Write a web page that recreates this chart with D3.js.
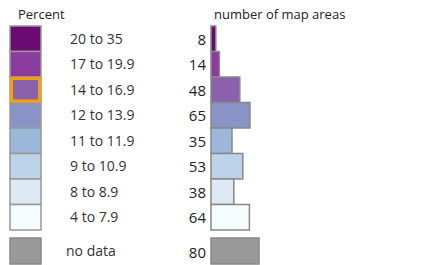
<!DOCTYPE html>
<head>
    <meta charset="utf-8">
    <title>Percent legend with map area counts</title>
    <script src="https://cdn.jsdelivr.net/npm/d3@7/dist/d3.min.js"></script>
</head>

<body style="margin:0;background:#fff">

<div id="container"></div>

<script type="text/javascript">
    // legend classes, top to bottom
    const classLabels = ["20 to 35", "17 to 19.9", "14 to 16.9", "12 to 13.9", "11 to 11.9", "9 to 10.9", "8 to 8.9", "4 to 7.9"];
    const areaCounts = [8, 14, 48, 65, 35, 53, 38, 64];
    const classColors = ["#6b0a70", "#8a3b9c", "#8b60ad", "#8a93c8", "#9bb8da", "#bcd3ea", "#dde9f4", "#f4fcfd"];
    const noDataLabel = "no data";
    const noDataCount = 80;
    const highlighted = "14 to 16.9";

    const width = 433, height = 265;

    const svg = d3.select("#container")
        .append("svg")
        .attr("width", width)
        .attr("height", height)
        .style("font-family", "'Open Sans', sans-serif");

    // rows of the legend
    const y = d3.scaleBand()
        .domain(classLabels)
        .range([26, 230])
        .paddingInner(0);

    // bar length per map area
    const x = d3.scaleLinear()
        .domain([0, 80])
        .range([0, 48]);

    const swatchX = 10, swatchW = 31, barX = 211;
    const noDataY = 238, noDataH = 26;

    // titles
    svg.append("text")
        .attr("x", 18).attr("y", 19)
        .style("font-size", "13px")
        .attr("fill", "#222")
        .text("Percent");
    svg.append("text")
        .attr("x", 214).attr("y", 19)
        .style("font-size", "13px")
        .attr("fill", "#222")
        .text("number of map areas");

    // colour swatches
    svg.selectAll("rect.swatch")
        .data(classLabels)
        .join("rect")
        .attr("class", "swatch")
        .attr("x", swatchX)
        .attr("y", d => y(d))
        .attr("width", swatchW)
        .attr("height", y.bandwidth())
        .attr("fill", (d, i) => classColors[i])
        .attr("stroke", "#999")
        .attr("stroke-width", 1.5);

    // highlighted class
    svg.append("rect")
        .attr("x", swatchX + 1.5)
        .attr("y", y(highlighted) + 1.5)
        .attr("width", swatchW - 3)
        .attr("height", y.bandwidth() - 3)
        .attr("fill", "none")
        .attr("stroke", "#f7a100")
        .attr("stroke-width", 3);

    // class labels
    svg.selectAll("text.label")
        .data(classLabels)
        .join("text")
        .attr("class", "label")
        .attr("x", 70)
        .attr("y", d => y(d) + y.bandwidth() / 2 + 5)
        .style("font-size", "14px")
        .attr("fill", "#333")
        .text(d => d);

    // counts
    svg.selectAll("text.count")
        .data(classLabels)
        .join("text")
        .attr("class", "count")
        .attr("x", 206)
        .attr("y", d => y(d) + y.bandwidth() / 2 + 6)
        .attr("text-anchor", "end")
        .style("font-size", "15px")
        .attr("fill", "#222")
        .text((d, i) => areaCounts[i]);

    // bars
    svg.selectAll("rect.bar")
        .data(classLabels)
        .join("rect")
        .attr("class", "bar")
        .attr("x", barX)
        .attr("y", d => y(d))
        .attr("width", (d, i) => x(areaCounts[i]))
        .attr("height", y.bandwidth())
        .attr("fill", (d, i) => classColors[i])
        .attr("stroke", "#888")
        .attr("stroke-width", 1.5);

    // no data row
    svg.append("rect")
        .attr("x", swatchX).attr("y", noDataY)
        .attr("width", swatchW).attr("height", noDataH)
        .attr("fill", "#999").attr("stroke", "#888").attr("stroke-width", 1.5);
    svg.append("text")
        .attr("x", 66).attr("y", noDataY + noDataH / 2 + 5)
        .style("font-size", "14px")
        .attr("fill", "#333")
        .text(noDataLabel);
    svg.append("text")
        .attr("x", 206).attr("y", noDataY + noDataH / 2 + 7)
        .attr("text-anchor", "end")
        .style("font-size", "15px")
        .attr("fill", "#222")
        .text(noDataCount);
    svg.append("rect")
        .attr("x", barX).attr("y", noDataY)
        .attr("width", x(noDataCount)).attr("height", noDataH)
        .attr("fill", "#999").attr("stroke", "#888").attr("stroke-width", 1.5);
</script>
</body>
